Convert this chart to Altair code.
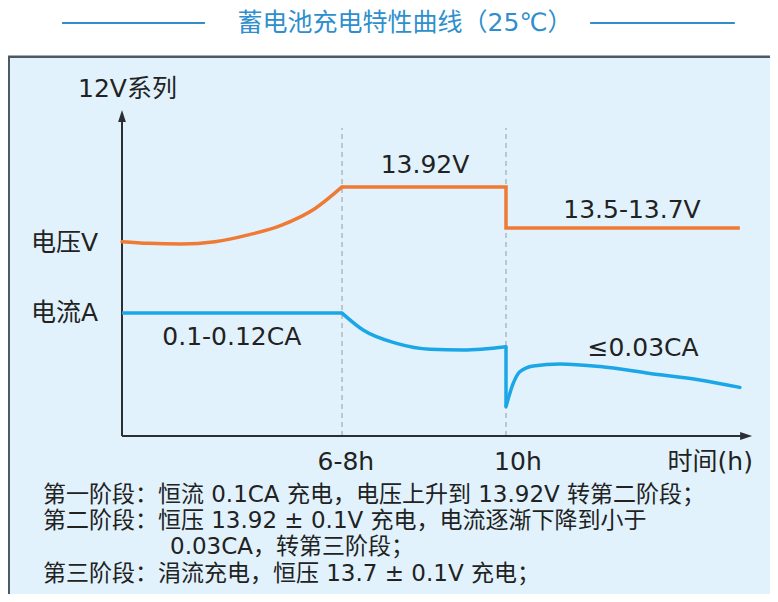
import altair as alt
import pandas as pd

# ---------------- data (schematic units) ----------------
# x: schematic time position (10h boundary = 10), y: schematic level (axis top = 100)
phase_bounds = [5.73, 10.0]
phase_labels = ["6-8h", "10h"]
phase_label_x = [5.83, 10.31]

# voltage, stage 1 (rising curve)
volt_s1_t = [0, 0.69, 1.55, 2.42, 3.29, 4.16, 5.03, 5.73]
volt_s1_v = [59.6, 59.1, 58.9, 59.6, 61.7, 64.7, 69.8, 76.4]
# voltage, stage 2/3 (step)
volt_s23_t = [5.73, 10.0, 10.0, 16.09]
volt_s23_v = [76.4, 76.4, 63.8, 63.8]

# current, stage 1 (flat)
curr_s1_t = [0, 5.73]
curr_s1_a = [37.7, 37.7]
# current, stage 2 (decaying curve)
curr_s2_t = [5.73, 6.28, 7.15, 8.02, 8.89, 10.0]
curr_s2_a = [37.7, 32.5, 28.4, 26.6, 26.4, 27.4]
# current, drop at switch
curr_drop_t = [10.0, 10.0]
curr_drop_a = [27.4, 9.0]
# current, stage 3 (recovery then slow decline)
curr_s3_t = [10.0, 10.19, 10.36, 10.71, 11.41, 12.45, 13.75, 15.05, 16.09]
curr_s3_a = [9.0, 16.2, 19.7, 21.5, 22.1, 21.3, 19.2, 17.2, 14.9]

title_text = "蓄电池充电特性曲线（25℃）"
y_axis_title = "12V系列"
series_names = ["电压V", "电流A"]
series_label_y = [59.2, 37.7]
value_labels = ["0.1-0.12CA", "13.92V", "13.5-13.7V", "≤0.03CA"]
value_label_x = [2.86, 7.89, 13.28, 13.57]
value_label_y = [30.4, 83.1, 69.3, 27.0]
x_axis_title = "时间(h)"
notes = [
    "第一阶段：恒流 0.1CA 充电，电压上升到 13.92V 转第二阶段；",
    "第二阶段：恒压 13.92 ± 0.1V 充电，电流逐渐下降到小于",
    "0.03CA，转第三阶段；",
    "第三阶段：涓流充电，恒压 13.7 ± 0.1V 充电；",
]
notes_x = [-2.06, -2.06, 1.25, -2.06]
notes_y = [-18.1, -26.1, -34.0, -42.3]

# ---------------- layout / style ----------------
W, H = 762, 586
X_MIN, X_MAX = -2.96875, 16.875
Y_MIN, Y_MAX = -48.47, 131.29
AXIS_TOP = 100.0
AXIS_RIGHT = 16.41
DASH_TOP = 94.5
FRAME_TOP = 116.3
FRAME_LEFT = -2.95

ORANGE = "#ef7a33"
BLUE = "#1ba6e8"
TITLE_BLUE = "#2f8fce"
BG = "#e1f2fc"
BORDER = "#4e585e"
AXIS_C = "#2b2f33"
TEXT_C = "#222222"
FONT = "DejaVu Sans, Noto Sans CJK SC, sans-serif"

XS = alt.Scale(domain=[X_MIN, X_MAX], nice=False, zero=False)
YS = alt.Scale(domain=[Y_MIN, Y_MAX], nice=False, zero=False)


def xq(f):
    return alt.X(f, type="quantitative", scale=XS, axis=None)


def yq(f):
    return alt.Y(f, type="quantitative", scale=YS, axis=None)


# frame background
frame = pd.DataFrame({"x0": [X_MIN], "x1": [X_MAX], "y0": [Y_MIN], "y1": [FRAME_TOP]})
bg = alt.Chart(frame).mark_rect(color=BG).encode(x=xq("x0"), x2="x1", y=yq("y0"), y2="y1")

border_df = pd.DataFrame({
    "x0": [X_MIN, FRAME_LEFT], "x1": [X_MAX, FRAME_LEFT],
    "y0": [FRAME_TOP, Y_MIN], "y1": [FRAME_TOP, FRAME_TOP],
})
border = alt.Chart(border_df).mark_rule(color=BORDER, strokeWidth=2.5).encode(
    x=xq("x0"), x2="x1", y=yq("y0"), y2="y1")

# title with side lines
TITLE_Y = 126.7
tl_df = pd.DataFrame({"x0": [-1.5625, 12.19], "x1": [2.16, 15.96],
                      "y0": [TITLE_Y, TITLE_Y], "y1": [TITLE_Y, TITLE_Y]})
title_lines = alt.Chart(tl_df).mark_rule(color=TITLE_BLUE, strokeWidth=2).encode(
    x=xq("x0"), x2="x1", y=yq("y0"), y2="y1")
title = alt.Chart(pd.DataFrame({"x": [7.37], "y": [TITLE_Y], "t": [title_text]})).mark_text(
    font=FONT, fontSize=25, color=TITLE_BLUE, align="center", baseline="middle"
).encode(x=xq("x"), y=yq("y"), text="t:N")

# dashed phase boundaries
dash_df = pd.DataFrame({"x": phase_bounds, "y0": [0, 0], "y1": [DASH_TOP, DASH_TOP]})
dashes = alt.Chart(dash_df).mark_rule(color="#9a9a9a", strokeWidth=1, strokeDash=[5, 4]).encode(
    x=xq("x"), y=yq("y0"), y2="y1")

# axes
ax_df = pd.DataFrame({"x0": [0, 0], "x1": [0, AXIS_RIGHT - 0.1], "y0": [0, 0], "y1": [AXIS_TOP - 2, 0]})
axes = alt.Chart(ax_df).mark_rule(color=AXIS_C, strokeWidth=2).encode(
    x=xq("x0"), x2="x1", y=yq("y0"), y2="y1")
arrow_up = alt.Chart(pd.DataFrame({"x": [0], "y": [AXIS_TOP]})).mark_point(
    shape="M0,0L0.65,2L-0.65,2Z", size=144, filled=True, color=AXIS_C, opacity=1
).encode(x=xq("x"), y=yq("y"))
arrow_right = alt.Chart(pd.DataFrame({"x": [AXIS_RIGHT], "y": [0]})).mark_point(
    shape="M0,0L-2,-0.65L-2,0.65Z", size=144, filled=True, color=AXIS_C, opacity=1
).encode(x=xq("x"), y=yq("y"))


def seg_df(ts, vs, name):
    return pd.DataFrame({"t": ts, "v": vs, "seg": name, "i": range(len(ts))})


curve_df = pd.concat([
    seg_df(volt_s1_t, volt_s1_v, "v1").assign(s="V"),
    seg_df(curr_s2_t, curr_s2_a, "a2").assign(s="A"),
    seg_df(curr_s3_t, curr_s3_a, "a3").assign(s="A"),
])
lin_df = pd.concat([
    seg_df(volt_s23_t, volt_s23_v, "v23").assign(s="V"),
    seg_df(curr_s1_t, curr_s1_a, "a1").assign(s="A"),
    seg_df(curr_drop_t, curr_drop_a, "ad").assign(s="A"),
])
cscale = alt.Scale(domain=["V", "A"], range=[ORANGE, BLUE])
curves = alt.Chart(curve_df).mark_line(interpolate="monotone", strokeWidth=3.5, strokeCap="round").encode(
    x=xq("t"), y=yq("v"), detail="seg:N", order="i:Q",
    color=alt.Color("s:N", scale=cscale, legend=None))
lins = alt.Chart(lin_df).mark_line(interpolate="linear", strokeWidth=3.5, strokeJoin="miter").encode(
    x=xq("t"), y=yq("v"), detail="seg:N", order="i:Q",
    color=alt.Color("s:N", scale=cscale, legend=None))

# text labels
left_df = pd.DataFrame({
    "x": [-1.146, -2.37, -2.37],
    "y": [106.4] + series_label_y,
    "t": [y_axis_title] + series_names,
})
left_txt = alt.Chart(left_df).mark_text(font=FONT, fontSize=25, color=TEXT_C, align="left",
                                         baseline="middle").encode(x=xq("x"), y=yq("y"), text="t:N")
center_df = pd.DataFrame({
    "x": value_label_x + phase_label_x,
    "y": value_label_y + [-8.0, -8.0],
    "t": value_labels + phase_labels,
})
center_txt = alt.Chart(center_df).mark_text(font=FONT, fontSize=25, color=TEXT_C, align="center",
                                             baseline="middle").encode(x=xq("x"), y=yq("y"), text="t:N")
right_txt = alt.Chart(pd.DataFrame({"x": [16.43], "y": [-8.0], "t": [x_axis_title]})).mark_text(
    font=FONT, fontSize=25, color=TEXT_C, align="right", baseline="middle"
).encode(x=xq("x"), y=yq("y"), text="t:N")
notes_txt = alt.Chart(pd.DataFrame({"x": notes_x, "y": notes_y, "t": notes})).mark_text(
    font=FONT, fontSize=23, color=TEXT_C, align="left", baseline="middle"
).encode(x=xq("x"), y=yq("y"), text="t:N")

chart = alt.layer(
    bg, border, title_lines, title, dashes, axes, arrow_up, arrow_right,
    lins, curves, left_txt, center_txt, right_txt, notes_txt,
).properties(
    width=W, height=H, autosize=alt.AutoSizeParams(type="none"), padding=0,
).configure_view(stroke=None)

chart.save("out.html", embed_options={"renderer": "svg", "actions": False})
